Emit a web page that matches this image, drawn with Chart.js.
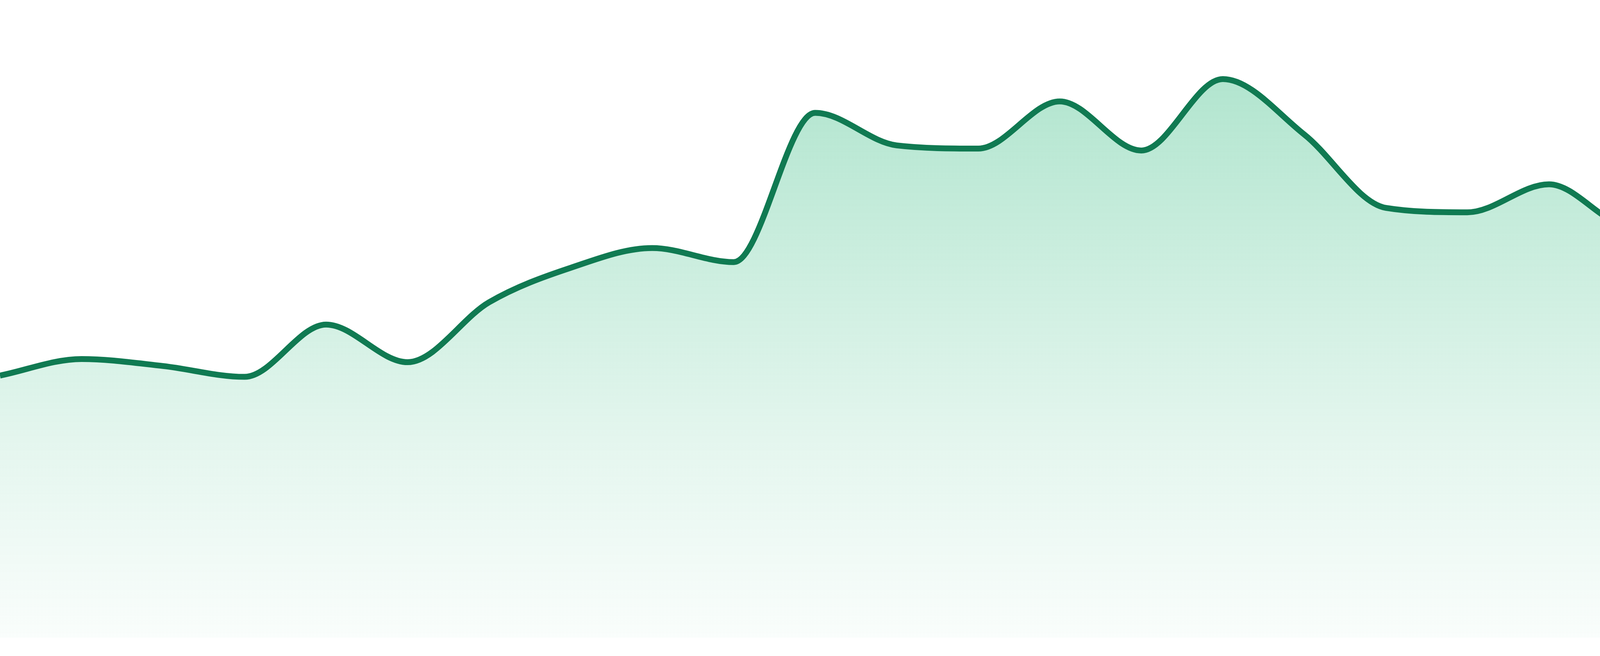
<!DOCTYPE html>
<html>
<head>
<meta charset="utf-8">
<title>Area line</title>
<script src="https://cdn.jsdelivr.net/npm/chart.js@4.4.1/dist/chart.umd.min.js"></script>
<style>
  html, body {
    margin: 0;
    padding: 0;
    background: #ffffff;
  }
  .chart-box {
    width: 4800px;
    height: 1680px;
    position: relative;
  }
</style>
</head>
<body>
<div class="chart-box">
  <canvas id="myAreaChart"></canvas>
</div>
<script>
// data for chart
const labels = [
  "1", "2", "3", "4", "5", "6", "7", "8", "9", "10", "11", "12",
  "13", "14", "15", "16", "17", "18", "19", "20", "21", "22", "23", "24",
];
const values = [
  41.1, 43.7, 42.6, 40.9, 49.1, 43.2, 52.6, 58.0, 61.1, 58.9, 82.3, 77.2,
  76.7, 84.1, 76.4, 87.6, 78.9, 67.4, 66.7, 71.1, 64.5, 68.8, 80.2, 77.3,
];
const yMin = 0;
const yMax = 100;

// fill gradient, built from the chart area
function areaGradient(context) {
  const chart = context.chart;
  const area = chart.chartArea;
  if (!area) {
    return "rgba(16, 175, 106, 0.2)";
  }
  const g = chart.ctx.createLinearGradient(0, area.top, 0, area.bottom);
  g.addColorStop(0, "rgba(16, 175, 106, 0.37)");
  g.addColorStop(0.7, "rgba(16, 175, 106, 0.11)");
  g.addColorStop(1, "rgba(16, 175, 106, 0.025)");
  return g;
}

const ctx = document.getElementById("myAreaChart").getContext("2d");
const myAreaChart = new Chart(ctx, {
  type: "line",
  data: {
    labels: labels,
    datasets: [
      {
        label: "Value",
        data: values,
        borderColor: "#107a52",
        borderWidth: 15,
        backgroundColor: areaGradient,
        fill: "start",
        cubicInterpolationMode: "monotone",
        pointRadius: 0,
        pointHoverRadius: 0,
      },
    ],
  },
  options: {
    responsive: true,
    maintainAspectRatio: false,
    animation: false,
    devicePixelRatio: 1,
    layout: {
      padding: { left: 0, right: 0, top: 0, bottom: 47 },
    },
    scales: {
      x: {
        display: false,
        offset: false,
      },
      y: {
        display: false,
        min: yMin,
        max: yMax,
      },
    },
    plugins: {
      legend: { display: false },
      tooltip: { enabled: false },
      title: { display: false },
    },
  },
});
</script>
</body>
</html>
